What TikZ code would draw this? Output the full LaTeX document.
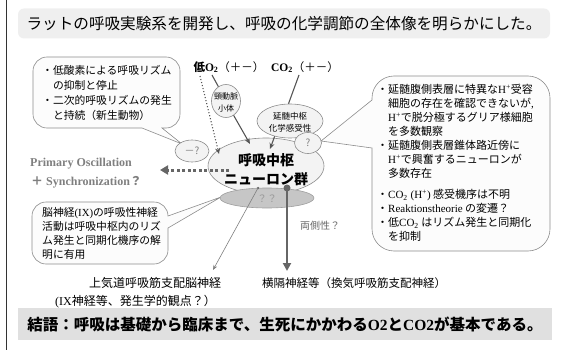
\documentclass[tikz,border=0pt]{standalone}
\usepackage{fontspec}
\setmainfont{Liberation Serif}
\newfontfamily\jp{Noto Sans CJK JP}
\usetikzlibrary{shapes.geometric,arrows.meta}
\definecolor{titlegray}{HTML}{EFEFEF}
\definecolor{botgray}{HTML}{E0E0E0}
\definecolor{boxline}{HTML}{8C8C8C}
\definecolor{boxfill}{HTML}{FCFCFC}
\definecolor{ellfill}{HTML}{F3F3F3}
\definecolor{qqfill}{HTML}{C6C6C6}
\definecolor{txtgray}{HTML}{7F7F7F}
\definecolor{conngray}{HTML}{555555}
\definecolor{arrgray}{HTML}{666666}
\newcommand\lat[1]{{\rmfamily #1}}
\newcommand\fs[2]{\fontsize{#1}{#2}\selectfont}
\begin{document}
\begin{tikzpicture}[x=1pt,y=-1pt,
  lbl/.style={inner sep=0pt, font=\jp},
  cbox/.style={draw=boxline, fill=boxfill, line width=0.6pt},
  ell/.style={ellipse, draw=boxline, fill=ellfill, line width=0.6pt, inner sep=0pt},
  conn/.style={draw=conngray, line width=1.1pt},
]
\useasboundingbox (0,0) rectangle (564,350);
% left frame line
\draw[line width=1pt, black!80] (6,0) -- (6,350);

% title and conclusion
\node[fill=titlegray, rounded corners=6pt, minimum width=532pt, minimum height=30pt,
      font=\jp\fs{15.6}{20}, inner sep=0pt] (title) at (284,23.5)
  {ラットの呼吸実験系を開発し、呼吸の化学調節の全体像を明らかにした。};
\node[fill=botgray, minimum width=534pt, minimum height=32pt,
      font=\jp\bfseries\fs{15.5}{20}, inner sep=0pt] (concl) at (285,324)
  {結語：呼吸は基礎から臨床まで、生死にかかわる\lat{\bfseries O2}と\lat{\bfseries CO2}が基本である。};

% callout 1 (top left)
\path[cbox] (47,57) -- (166,57) .. controls (173.7,57) and (180,63.3) .. (180,71)
  -- (180,114) .. controls (180,121.7) and (173.7,128) .. (166,128)
  -- (162,128) -- (182,144) -- (142,128)
  -- (47,128) .. controls (39.3,128) and (33,121.7) .. (33,114)
  -- (33,71) .. controls (33,63.3) and (39.3,57) .. (47,57) -- cycle;
\node[lbl, font=\jp\fs{10.8}{15}, align=left, anchor=north west] (t1) at (42,65)
  {・低酸素による呼吸リズム\\\hphantom{・}の抑制と停止\\・二次的呼吸リズムの発生\\\hphantom{・}と持続（新生動物）};

% callout 2 (right)
\path[cbox] (394,76) -- (528,76) .. controls (540.1,76) and (550,85.9) .. (550,98)
  -- (550,229) .. controls (550,241.1) and (540.1,251) .. (528,251)
  -- (394,251) .. controls (381.9,251) and (372,241.1) .. (372,229)
  -- (372,148) -- (321,141) -- (372,100)
  -- (372,98) .. controls (372,85.9) and (381.9,76) .. (394,76) -- cycle;
\node[lbl, font=\jp\fs{11}{14}, align=left, anchor=north west] (t2) at (377,84)
  {・延髄腹側表層に特異な\lat{H\textsuperscript{+}}受容\\
   \hphantom{・}細胞の存在を確認できないが\lat{,}\\
   \hphantom{・}\lat{H\textsuperscript{+}}で脱分極するグリア様細胞\\
   \hphantom{・}を多数観察\\
   ・延髄腹側表層錐体路近傍に\\
   \hphantom{・}\lat{H\textsuperscript{+}}で興奮するニューロンが\\
   \hphantom{・}多数存在\\[7pt]
   ・\lat{CO\textsubscript{2} (H\textsuperscript{+})} 感受機序は不明\\
   ・\lat{Reaktionstheorie} の変遷？\\
   ・低\lat{CO\textsubscript{2}} はリズム発生と同期化\\
   \hphantom{・}を抑制};

% callout 3 (bottom left)
\path[cbox] (46,202) -- (154,202) .. controls (161.7,202) and (168,208.3) .. (168,216)
  -- (221,197) -- (168,228)
  -- (168,250) .. controls (168,257.7) and (161.7,264) .. (154,264)
  -- (46,264) .. controls (38.3,264) and (32,257.7) .. (32,250)
  -- (32,216) .. controls (32,208.3) and (38.3,202) .. (46,202) -- cycle;
\node[lbl, font=\jp\fs{10.8}{14}, align=left, anchor=north west] (t3) at (42,207)
  {脳神経\lat{(IX)}の呼吸性神経\\活動は呼吸中枢内のリズ\\ム発生と同期化機序の解\\明に有用};

% ellipses
\node[ell, minimum width=116pt, minimum height=56pt] (center) at (266,166) {};
\node[lbl, font=\jp\bfseries\fs{14}{19}, align=center] (centertxt) at (266,170) {呼吸中枢\\ニューロン群};
\node[ell, minimum width=66pt, minimum height=34pt] (enzui) at (290,121) {};
\node[lbl, font=\jp\fs{8.5}{12}, align=center] (enzuitxt) at (290,122) {延髄中枢\\化学感受性};
\node[ell, minimum width=29pt, minimum height=33pt] (carotid) at (226,101) {};
\node[lbl, font=\jp\fs{8}{12}, align=center] (carotidtxt) at (226,102) {頸動脈\\小体};
\node[ell, minimum width=27pt, minimum height=21pt] (qcirc) at (308,143) {};
\node[lbl, font=\jp\fs{10}{12}, text=txtgray] (qtxt) at (308,143) {?};
\node[ell, minimum width=34pt, minimum height=22pt] (minus) at (192,151) {};
\node[lbl, font=\jp\fs{10}{12}, text=txtgray] (minustxt) at (192,151) {－?};
\node[ell, fill=qqfill, draw=qqfill!80!black, minimum width=94pt, minimum height=20pt] (qq) at (267,198) {};
\node[lbl, font=\jp\fs{10}{12}, text=txtgray!80] (qqtxt) at (267,199) {？？};

% top labels
\node[lbl, font=\jp\fs{11.5}{14}] (lowo2) at (229,67) {{\bfseries 低}\lat{\bfseries O\textsubscript{2}}（＋－）};
\node[lbl, font=\jp\fs{11.5}{14}] (co2) at (305,67) {\lat{\bfseries CO\textsubscript{2}}（＋－）};

% connectors from labels
\coordinate (o2a) at (212,75);
\coordinate (o2b) at (200,76);
\coordinate (co2a) at (299,75);
\coordinate (catip) at (250,144);
\coordinate (entip) at (270,149);
\coordinate (dottip) at (219,154);
\draw[conn] (o2a) -- (carotid.118);
\draw[conn] (co2a) -- (enzui.95);
\draw[conn, -{Stealth[length=6pt,width=5pt]}] (carotid.-62) -- (catip);
\draw[conn, -{Stealth[length=6pt,width=5pt]}] (enzui.-135) -- (entip);
\draw[draw=conngray, line width=1.1pt, dotted, -{Stealth[length=6pt,width=5pt]}] (o2b) -- (dottip);

% primary oscillation
\node[lbl, font=\bfseries\fs{12}{14}, text=txtgray, anchor=west] (po) at (30,164) {Primary Oscillation};
\node[lbl, font=\bfseries\fs{12}{14}, text=txtgray, anchor=west] (sync) at (31,182) {{\jp ＋}\ Synchronization{\jp ？}};
\coordinate (dstart) at (229,170);
\coordinate (dtip) at (160,170);
\draw[draw=arrgray, line width=3pt, dash pattern=on 3pt off 2.5pt, -{Triangle[length=8pt,width=9pt]}] (dstart) -- (dtip);

% lower outputs
\node[lbl, font=\jp\fs{12}{14}, anchor=west] (ua1) at (89,283) {上気道呼吸筋支配脳神経};
\node[lbl, font=\jp\fs{12}{14}, anchor=west] (ua2) at (55,302) {\lat{(IX}神経等、発生学的観点？）};
\node[lbl, font=\jp\fs{11.5}{14}, anchor=west] (phrenic) at (262,283) {横隔神経等（換気呼吸筋支配神経）};
\node[lbl, font=\jp\fs{10}{12}, text=arrgray] (bilat) at (320,226) {両側性？};

\node[circle, fill=arrgray, inner sep=0pt, minimum size=2.5pt] (thindot) at (258,188) {};
\node[circle, fill=arrgray, inner sep=0pt, minimum size=7pt] (thickdot) at (287,188) {};
\coordinate (uatip) at (213,270);
\coordinate (phtip) at (287,271);
\draw[draw=txtgray, line width=0.6pt, -{Stealth[length=5pt,width=4pt]}] (thindot.center) -- (uatip);
\draw[draw=arrgray, line width=2.5pt, -{Triangle[length=8pt,width=8pt]}] (thickdot.center) -- (phtip);
\end{tikzpicture}
\end{document}
